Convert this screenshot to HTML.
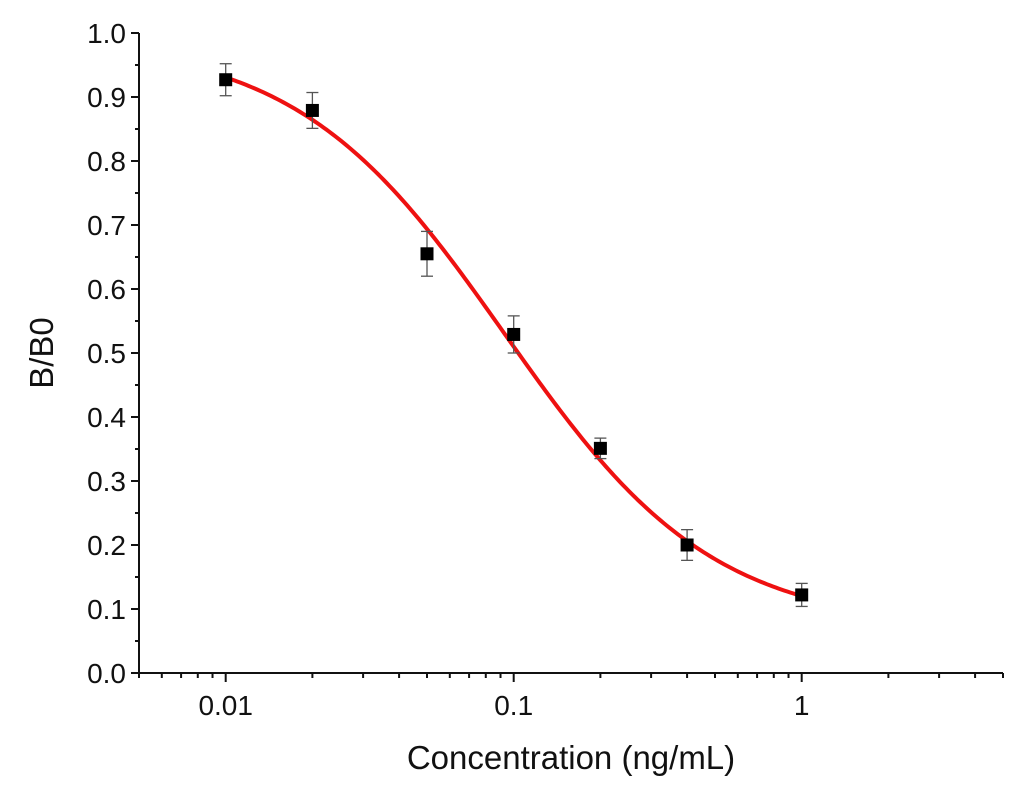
<!DOCTYPE html>
<html><head><meta charset="utf-8"><style>
body{margin:0;background:#fff;}
svg{display:block;font-family:"Liberation Sans",Arial,sans-serif;}
</style></head><body>
<svg id="chart" width="1024" height="785">
<g id="axes"></g>
<g id="plot"></g>
<text x="571" y="769" font-size="33" text-anchor="middle" fill="#111">Concentration (ng/mL)</text>
<text transform="translate(53,353) rotate(-90)" font-size="33" text-anchor="middle" fill="#111">B/B0</text>
</svg>
<script>
const concentrations=[0.01,0.02,0.05,0.1,0.2,0.4,1];
const bb0=[0.927,0.879,0.655,0.529,0.351,0.200,0.122];
const errors=[0.025,0.028,0.035,0.029,0.016,0.024,0.018];
const yTicks=["0.0","0.1","0.2","0.3","0.4","0.5","0.6","0.7","0.8","0.9","1.0"];
const xTickLabels=["0.01","0.1","1"];
const fitA=0.99,fitB=1.2,fitC=0.093,fitD=0.07;

const NS="http://www.w3.org/2000/svg";
const X0=139,X1=1003,Y0=673,Y1=33;
const lmin=Math.log10(0.005),lmax=Math.log10(5);
function xs(v){return X0+(Math.log10(v)-lmin)/(lmax-lmin)*(X1-X0);}
function ys(v){return Y0-v*(Y0-Y1);}
function mk(tag,attrs,parent){const e=document.createElementNS(NS,tag);for(const k in attrs)e.setAttribute(k,attrs[k]);parent.appendChild(e);return e;}
const axes=document.getElementById('axes'),plot=document.getElementById('plot');
let l=mk('line',{x1:X0,y1:Y0,x2:X1,y2:Y0,stroke:'#111','stroke-width':2},axes);


l=mk('line',{x1:X0,y1:Y0,x2:X0,y2:Y1,stroke:'#111','stroke-width':2},axes);


yTicks.forEach((t,i)=>{const v=parseFloat(t);const y=ys(v);
 mk('line',{x1:X0-8,y1:y,x2:X0,y2:y,stroke:'#111','stroke-width':2},axes);
 if(i<yTicks.length-1){const ym=ys(v+0.05);mk('line',{x1:X0-4,y1:ym,x2:X0,y2:ym,stroke:'#111','stroke-width':2},axes);}
 const tx=mk('text',{x:X0-13,y:y+10,'font-size':28,'text-anchor':'end',fill:'#111'},axes);tx.textContent=t;
 
 
});
for(let d=-3;d<=0;d++){for(let m=1;m<10;m++){const v=m*Math.pow(10,d);if(v<0.005-1e-9||v>5+1e-9)continue;const x=xs(v);
 mk('line',{x1:x,y1:Y0,x2:x,y2:Y0+(m===1?9:5),stroke:'#111','stroke-width':2},axes);}}
xTickLabels.forEach(t=>{const tx=mk('text',{x:xs(parseFloat(t)),y:Y0+42,'font-size':28,'text-anchor':'middle',fill:'#111'},axes);tx.textContent=t;
 
 
});
let d='';for(let i=0;i<=200;i++){const lv=-2+2*i/200;const v=Math.pow(10,lv);const y=fitD+(fitA-fitD)/(1+Math.pow(v/fitC,fitB));d+=(i?'L':'M')+xs(v).toFixed(2)+' '+ys(y).toFixed(2);}
const fit=mk('path',{d:d,fill:'none',stroke:'#ee1111','stroke-width':4},plot);


concentrations.forEach((c,i)=>{const x=xs(c),y=ys(bb0[i]),yt=ys(bb0[i]+errors[i]),yb=ys(bb0[i]-errors[i]);
 const g=mk('g',{},plot);
 
 
 mk('line',{x1:x,y1:yt,x2:x,y2:yb,stroke:'#555','stroke-width':1.3},g);
 mk('line',{x1:x-6,y1:yt,x2:x+6,y2:yt,stroke:'#555','stroke-width':1.3},g);
 mk('line',{x1:x-6,y1:yb,x2:x+6,y2:yb,stroke:'#555','stroke-width':1.3},g);
 mk('rect',{x:x-6.5,y:y-6.5,width:13,height:13,fill:'#000'},g);
});
</script>
</body></html>
